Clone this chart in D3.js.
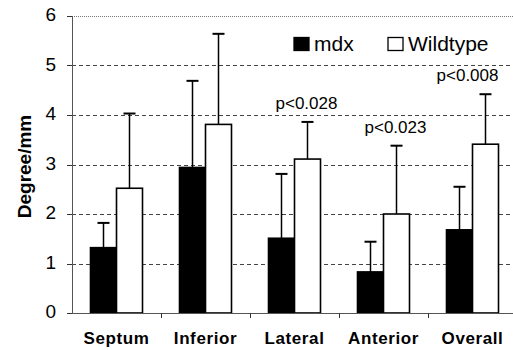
<!DOCTYPE html>
<html>
<head>
<meta charset="utf-8">
<script src="https://cdn.jsdelivr.net/npm/d3@7"></script>
<style>
  body { margin: 0; background: #fff; }
  text { font-family: Arial, "Liberation Sans", sans-serif; }
</style>
</head>
<body>
<div id="chart"></div>
<script>
// data
var categories = ["Septum", "Inferior", "Lateral", "Anterior", "Overall"];
var mdx = [1.32, 2.94, 1.51, 0.83, 1.68];
var mdxErr = [1.82, 4.69, 2.81, 1.44, 2.55];
var wildtype = [2.52, 3.81, 3.11, 2.0, 3.41];
var wildtypeErr = [4.03, 5.64, 3.86, 3.38, 4.42];
var pLabels = ["", "", "p<0.028", "p<0.023", "p<0.008"];
var yTicks = [0, 1, 2, 3, 4, 5, 6];

var width = 513, height = 350;
var margin = { top: 16, right: -4, bottom: 37, left: 72 };

var svg = d3.select("#chart").append("svg")
    .attr("width", width)
    .attr("height", height);

var x = d3.scaleBand().domain(categories)
    .range([margin.left, width - margin.right]);
var y = d3.scaleLinear().domain([0, 6])
    .range([height - margin.bottom, margin.top]);

var barW = 26;

// grid lines
svg.selectAll(".grid")
    .data(yTicks.filter(function (d) { return d > 0; }))
    .enter().append("line")
    .attr("x1", margin.left)
    .attr("x2", width)
    .attr("y1", function (d) { return Math.round(y(d)) + 0.5; })
    .attr("y2", function (d) { return Math.round(y(d)) + 0.5; })
    .attr("stroke", function (d) { return d == 6 ? "#777" : "#444"; })
    .attr("stroke-width", 1)
    .attr("stroke-dasharray", function (d) { return d == 6 ? "1,1" : "4,3"; });

function drawSeries(vals, errs, fill, offset) {
    var cx = function (d) { return x(d) + x.bandwidth() / 2 + offset + barW / 2; };
    // error bars
    svg.selectAll(null)
        .data(categories)
        .enter().append("line")
        .attr("x1", cx)
        .attr("x2", cx)
        .attr("y1", function (d, i) { return y(vals[i]); })
        .attr("y2", function (d, i) { return y(errs[i]); })
        .attr("stroke", "#000")
        .attr("stroke-width", 1.5);
    svg.selectAll(null)
        .data(categories)
        .enter().append("line")
        .attr("x1", function (d) { return cx(d) - 6; })
        .attr("x2", function (d) { return cx(d) + 6; })
        .attr("y1", function (d, i) { return y(errs[i]); })
        .attr("y2", function (d, i) { return y(errs[i]); })
        .attr("stroke", "#000")
        .attr("stroke-width", 2);
    svg.selectAll(null)
        .data(categories)
        .enter().append("rect")
        .attr("x", function (d) { return x(d) + x.bandwidth() / 2 + offset; })
        .attr("y", function (d, i) { return y(vals[i]); })
        .attr("width", barW)
        .attr("height", function (d, i) { return y(0) - y(vals[i]); })
        .attr("fill", fill)
        .attr("stroke", "#000")
        .attr("stroke-width", 1.6);
}
drawSeries(mdx, mdxErr, "#000", -barW);
drawSeries(wildtype, wildtypeErr, "#fff", 0);

// left axis
svg.append("line")
    .attr("x1", margin.left + 0.5).attr("x2", margin.left + 0.5)
    .attr("y1", y(6)).attr("y2", y(0))
    .attr("stroke", "#555").attr("stroke-width", 1);
svg.selectAll(".ytick")
    .data(yTicks)
    .enter().append("line")
    .attr("x1", margin.left - 5).attr("x2", margin.left)
    .attr("y1", function (d) { return Math.round(y(d)) + 0.5; })
    .attr("y2", function (d) { return Math.round(y(d)) + 0.5; })
    .attr("stroke", "#333");
svg.selectAll(".ylab")
    .data(yTicks)
    .enter().append("text")
    .attr("x", 56)
    .attr("y", function (d) { return y(d) + 5; })
    .attr("text-anchor", "end")
    .attr("font-size", 19)
    .text(function (d) { return d; });

// bottom axis
svg.append("line")
    .attr("x1", margin.left).attr("x2", width)
    .attr("y1", y(0) + 0.5).attr("y2", y(0) + 0.5)
    .attr("stroke", "#555");
svg.selectAll(".xtick")
    .data(categories.slice(1))
    .enter().append("line")
    .attr("x1", function (d) { return x(d) + 0.5; })
    .attr("x2", function (d) { return x(d) + 0.5; })
    .attr("y1", y(0)).attr("y2", y(0) + 5)
    .attr("stroke", "#333");
svg.selectAll(".xlab")
    .data(categories)
    .enter().append("text")
    .attr("x", function (d) { return x(d) + x.bandwidth() / 2; })
    .attr("y", 344)
    .attr("text-anchor", "middle")
    .attr("font-size", 17)
    .attr("font-weight", "bold")
    .attr("letter-spacing", 0.6)
    .text(function (d) { return d; });

// y title
svg.append("text")
    .attr("transform", "translate(31," + ((y(6) + y(0)) / 2 + 2) + ") rotate(-90)")
    .attr("text-anchor", "middle")
    .attr("font-size", 19)
    .attr("font-weight", "bold")
    .text("Degree/mm");

// p labels (kept inside the picture: the last one ends at its bar's right edge)
svg.selectAll(".plab")
    .data(categories)
    .enter().append("text")
    .attr("x", function (d) { return x(d) + x.bandwidth() / 2 + barW / 2 - 1; })
    .attr("y", function (d, i) { return y(wildtypeErr[i]) - 13; })
    .attr("text-anchor", "middle")
    .attr("font-size", 17)
    .text(function (d, i) { return pLabels[i]; })
    .each(function (d) {
        var w = this.getComputedTextLength();
        var right = x(d) + x.bandwidth() / 2 + barW;
        var cx = +d3.select(this).attr("x");
        if (cx + w / 2 > width - 10) {
            d3.select(this).attr("x", right - w / 2);
        }
    });

// legend
var legend = [["mdx", "#000", 294], ["Wildtype", "#fff", 388]];
legend.forEach(function (l) {
    svg.append("rect")
        .attr("x", l[2]).attr("y", 37.5)
        .attr("width", 15).attr("height", 13)
        .attr("fill", l[1]).attr("stroke", "#000").attr("stroke-width", 1.3);
    svg.append("text")
        .attr("x", l[2] + 20).attr("y", 51)
        .attr("font-size", 21)
        .text(l[0]);
});
</script>
</body>
</html>
